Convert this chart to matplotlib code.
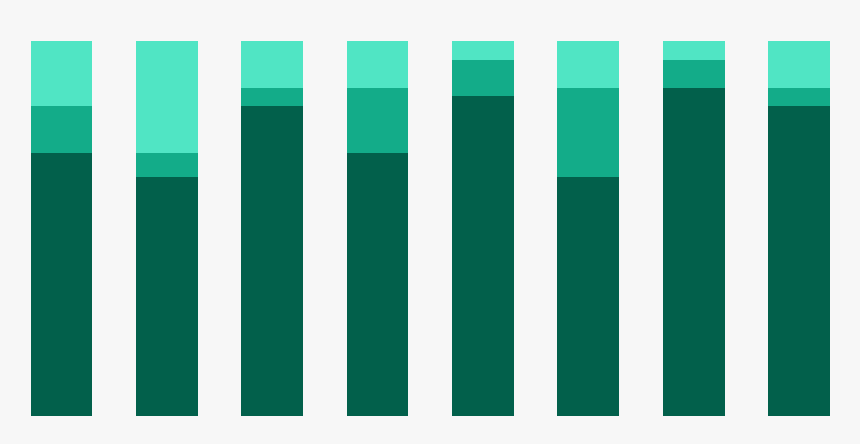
import matplotlib
matplotlib.use("Agg")
import matplotlib.pyplot as plt
import numpy as np

# shares per bar (%), bottom to top
positions = np.arange(8)
dark   = [70.0, 63.6, 82.6, 70.0, 85.3, 63.6, 87.4, 82.6]
medium = [12.6,  6.4,  4.8, 17.4,  9.6, 23.8,  7.5,  4.8]
light  = [17.4, 30.0, 12.6, 12.6,  5.1, 12.6,  5.1, 12.6]

BG = "#f7f7f7"
C_DARK, C_MED, C_LIGHT = "#02604b", "#13ac89", "#50e5c4"

fig = plt.figure(figsize=(8.6, 4.44), dpi=100)
fig.patch.set_facecolor(BG)
ax = fig.add_axes([0, 0, 1, 1])
ax.set_facecolor(BG)

w = 0.585
ax.bar(positions, dark, width=w, color=C_DARK, lw=0)
ax.bar(positions, medium, width=w, bottom=dark, color=C_MED, lw=0)
bottom2 = np.array(dark) + np.array(medium)
ax.bar(positions, light, width=w, bottom=bottom2, color=C_LIGHT, lw=0)

ax.set_xlim(-0.582, 7.578)
ax.set_ylim(-7.55, 110.85)
ax.axis("off")

fig.savefig("out.png", dpi=100, facecolor=BG)
